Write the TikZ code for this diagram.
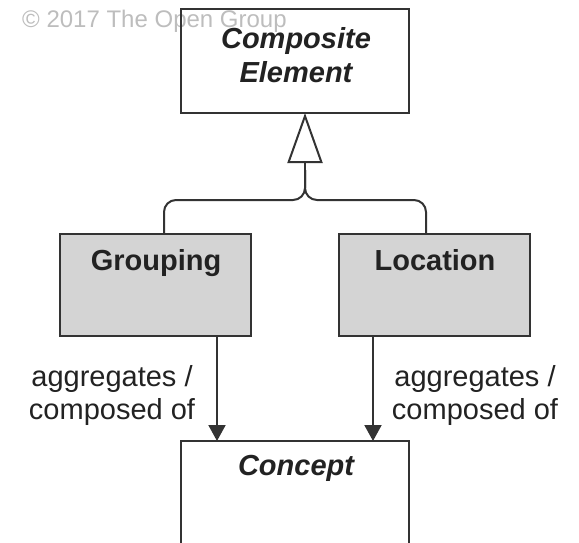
\documentclass[tikz,border=0pt]{standalone}
\usepackage{fontspec}
\setmainfont{Liberation Sans}
\usetikzlibrary{arrows.meta}
\definecolor{linec}{HTML}{333333}
\definecolor{textc}{HTML}{222222}
\definecolor{fillg}{HTML}{D4D4D4}
\definecolor{copyc}{HTML}{BDBDBD}
\begin{document}
\begin{tikzpicture}[x=1pt,y=-1pt,
  box/.style={draw=linec, line width=2pt, inner sep=0pt, outer sep=0pt},
  abox/.style={box, fill=fillg},
  ttl/.style={text=textc, font=\fontsize{29}{34}\selectfont\bfseries\itshape, align=center, inner sep=0pt},
  btl/.style={text=textc, font=\fontsize{29}{34}\selectfont\bfseries, align=center, inner sep=0pt, anchor=base},
  lbl/.style={text=textc, font=\fontsize{29}{33}\selectfont, align=center, inner sep=0pt},
  conn/.style={draw=linec, line width=2pt},
  flow/.style={conn, -{Triangle[length=16pt,width=17pt]}},
  spec/.style={conn, -{Triangle[open,length=50pt,width=35pt,fill=white]}}]
\useasboundingbox (0,0) rectangle (579,543);
% copyright
\node[text=copyc, font=\fontsize{24}{27}\selectfont, anchor=west, inner sep=0pt] (copy) at (22,21) {© 2017 The Open Group};
% boxes
\node[box, minimum width=228pt, minimum height=104pt] (ce) at (295,61) {};
\node[ttl] (cet) at (296,55) {Composite\\Element};
\node[abox, minimum width=191pt, minimum height=102pt] (gr) at (155.5,285) {};
\node[btl] (grt) at (156,270) {Grouping};
\node[abox, minimum width=191pt, minimum height=102pt] (lo) at (434.5,285) {};
\node[btl] (lot) at (435,270) {Location};
\node[box, minimum width=228pt, minimum height=104pt] (co) at (295,493) {};
\node[btl, font=\fontsize{29}{34}\selectfont\bfseries\itshape] (cot) at (296,475) {Concept};
% specialization
\coordinate (jn) at (305,200);
\coordinate (gj) at (164,234);
\coordinate (lj) at (426,234);
\draw[conn, rounded corners=12pt] (gj) -- (gj |- jn) -- (jn) -- ++(0,-30);
\draw[conn, rounded corners=12pt] (lj) -- (lj |- jn) -- (jn) -- ++(0,-30);
\draw[spec] (jn) ++(0,-28) -- (ce.south -| jn);
% aggregation
\coordinate (ga) at (217,0);
\coordinate (la) at (373,0);
\draw[flow] (gr.south -| ga) -- (co.north -| ga);
\draw[flow] (lo.south -| la) -- (co.north -| la);
\node[lbl] (gl) at (112,395) {aggregates /\\composed of};
\node[lbl] (ll) at (475,395) {aggregates /\\composed of};
\end{tikzpicture}
\end{document}
